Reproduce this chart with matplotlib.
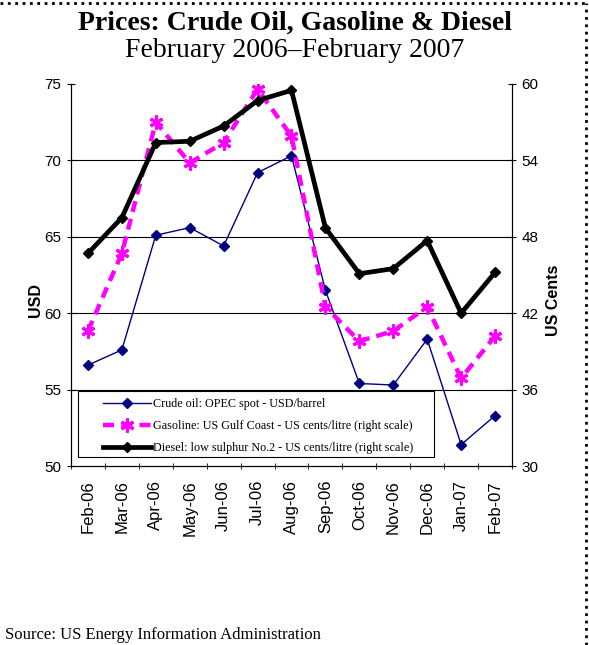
import matplotlib
matplotlib.use("Agg")
import matplotlib.pyplot as plt
from matplotlib.lines import Line2D
from matplotlib.patches import Rectangle
import numpy as np

months = ["Feb-06", "Mar-06", "Apr-06", "May-06", "Jun-06", "Jul-06", "Aug-06",
          "Sep-06", "Oct-06", "Nov-06", "Dec-06", "Jan-07", "Feb-07"]
crude = [56.6, 57.6, 65.1, 65.6, 64.4, 69.2, 70.3, 61.5, 55.4, 55.3, 58.3, 51.4, 53.3]
gasoline = [40.6, 46.7, 57.0, 53.8, 55.4, 59.6, 55.9, 42.5, 39.8, 40.6, 42.5, 36.9, 40.2]
diesel = [46.7, 49.5, 55.4, 55.5, 56.7, 58.7, 59.5, 48.7, 45.1, 45.5, 47.7, 42.0, 45.2]

serif = "Liberation Serif"
sans = "Liberation Sans"

fig = plt.figure(figsize=(5.89, 6.45), dpi=100)
ax = fig.add_axes([0.1205, 0.2775, 0.7488, 0.5923])
ax2 = ax.twinx()

x = np.arange(len(months))

# gridlines (shared by both scales)
for v in [55, 60, 65, 70]:
    ax.axhline(v, color="black", lw=0.8, zorder=0)

l1, = ax.plot(x, crude, color="#000080", lw=1.0, marker="D", ms=5,
              label="Crude oil: OPEC spot - USD/barrel", zorder=3)
l2, = ax2.plot(x, gasoline, color="#ff00ff", lw=3.2, ls=(0, (2.5, 1.6)),
               marker=(6, 2, 0), ms=10, mew=2.2,
               label="Gasoline: US Gulf Coast - US cents/litre (right scale)", zorder=2)
l3, = ax2.plot(x, diesel, color="black", lw=3.4, marker="D", ms=5,
               label="Diesel: low sulphur No.2 - US cents/litre (right scale)", zorder=4)

ax.set_xlim(-0.5, len(months) - 0.5)
ax.set_ylim(50, 75)
ax2.set_ylim(30, 60)
ax.set_yticks([50, 55, 60, 65, 70, 75])
ax2.set_yticks([30, 36, 42, 48, 54, 60])

ax.set_xticks(x)
ax.set_xticklabels(months, rotation=90, fontsize=12, fontfamily=sans)
ax.tick_params(axis="x", which="major", length=0, pad=10)
ax.set_xticks(np.arange(-0.5, len(months)), minor=True)
ax.tick_params(axis="x", which="minor", length=5, direction="inout")
ax.tick_params(axis="y", labelsize=11, direction="inout", length=6, pad=4)
ax2.tick_params(axis="y", labelsize=11, direction="inout", length=6, pad=4)
for lab in ax.get_yticklabels() + ax2.get_yticklabels():
    lab.set_fontfamily(sans)

ax.spines["top"].set_visible(False)
ax2.spines["top"].set_visible(False)
ax.set_ylabel("USD", fontsize=11.5, fontweight="bold", fontfamily=sans)
ax2.set_ylabel("US Cents", fontsize=11.5, fontweight="bold", fontfamily=sans)
ax.yaxis.set_label_coords(-0.064, 0.435)
ax2.yaxis.set_label_coords(1.077, 0.435)

# legend box drawn by hand, entries placed inside it
ax2.add_patch(Rectangle((0.016, 0.024), 0.807, 0.173, transform=ax2.transAxes,
                        facecolor="white", edgecolor="black", lw=0.8, zorder=5))
leg = ax2.legend(handles=[l1, l2, l3], loc="lower left", bbox_to_anchor=(0.0726, 0.032),
                 prop={"family": serif, "size": 8.7}, frameon=False, handlelength=4.0,
                 handletextpad=0.1, borderpad=0, borderaxespad=0, labelspacing=0.8)
leg.set_zorder(6)

fig.text(0.5, 0.964, "Prices: Crude Oil, Gasoline & Diesel", ha="center", va="center",
         fontsize=20, fontweight="bold", fontfamily=serif)
fig.text(0.5, 0.921, "February 2006\u2013February 2007", ha="center", va="center",
         fontsize=20, fontfamily=serif)
fig.text(0.008, 0.015, "Source: US Energy Information Administration", ha="left",
         va="center", fontsize=12, fontfamily=serif)

# page frame (dotted top and right edges)
fig.add_artist(Line2D([0, 0.997], [0.996, 0.996], color="black", lw=2, ls=":"))
fig.add_artist(Line2D([0.995, 0.995], [0, 0.996], color="black", lw=2, ls=":"))

fig.savefig("out.png", dpi=100)
